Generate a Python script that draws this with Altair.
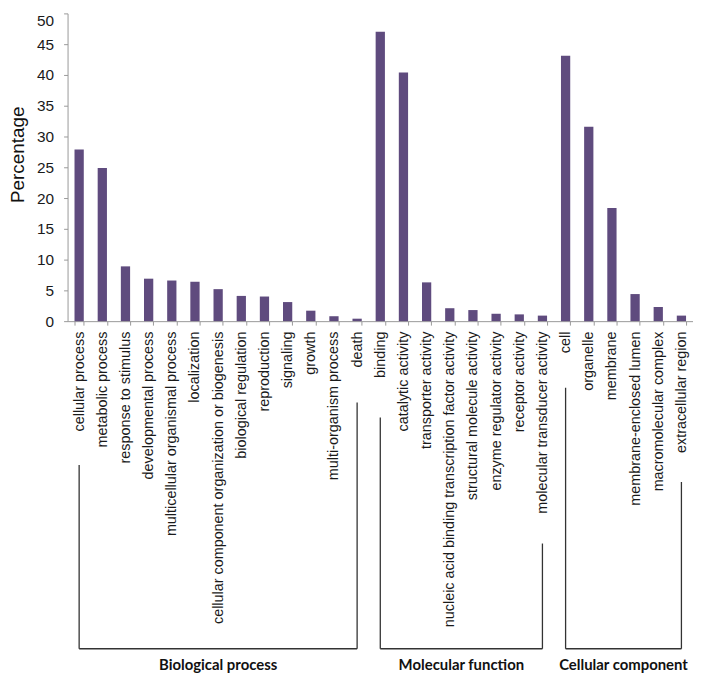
import altair as alt
import pandas as pd

# ---- data ----
categories = [
    "cellular process", "metabolic process", "response to stimulus",
    "developmental process", "multicellular organismal process", "localization",
    "cellular component organization or biogenesis", "biological regulation",
    "reproduction", "signaling", "growth", "multi-organism process", "death",
    "binding", "catalytic activity", "transporter activity",
    "nucleic acid binding transcription factor activity",
    "structural molecule activity", "enzyme regulator activity",
    "receptor activity", "molecular transducer activity",
    "cell", "organelle", "membrane", "membrane-enclosed lumen",
    "macromolecular complex", "extracellular region",
]
percentages = [
    27.9, 24.9, 8.9, 6.9, 6.6, 6.4, 5.2, 4.1, 4.0, 3.1, 1.7, 0.8, 0.4,
    47.0, 40.4, 6.3, 2.1, 1.8, 1.2, 1.1, 0.9,
    43.1, 31.6, 18.4, 4.4, 2.3, 0.9,
]
groups = ["Biological process", "Molecular function", "Cellular component"]
group_sizes = [13, 8, 6]

# ---- style / layout ----
BAR_COLOR = "#5F4B7E"
AXIS_GRAY = "#999999"
W, H = 630, 310
FONT = "Liberation Sans"
# bracket geometry in pixels below the plot top
BRACKET_BASE = 640
LEFT_TOPS = [455, 407, 377]
RIGHT_TOPS = [392, 534, 472]
GROUP_TEXT_Y = 656

df = pd.DataFrame({"category": categories, "percentage": percentages})

N = len(categories)
vert_rows, horiz_rows, text_rows = [], [], []
start = 0
for g, size, lt, rt in zip(groups, group_sizes, LEFT_TOPS, RIGHT_TOPS):
    first = start + 0.5
    last = start + size - 0.5
    vert_rows.append({"pos": first, "top": lt, "bottom": BRACKET_BASE})
    vert_rows.append({"pos": last, "top": rt, "bottom": BRACKET_BASE})
    horiz_rows.append({"pos": first, "pos2": last, "y": BRACKET_BASE})
    text_rows.append({"pos": (first + last) / 2, "y": GROUP_TEXT_Y, "group": g})
    start += size
vdf = pd.DataFrame(vert_rows)
hdf = pd.DataFrame(horiz_rows)
tdf = pd.DataFrame(text_rows)

bars = alt.Chart(df).mark_bar(color=BAR_COLOR).encode(
    x=alt.X(
        "category:N",
        sort=categories,
        scale=alt.Scale(paddingInner=0.6, paddingOuter=0.3),
        axis=alt.Axis(title=None),
    ),
    y=alt.Y(
        "percentage:Q",
        scale=alt.Scale(domain=[0, 50], nice=False, zero=True),
        axis=alt.Axis(
            values=list(range(0, 51, 5)), title="Percentage", titleY=142,
            labelBaseline={"condition": {"test": "datum.value >= 50", "value": "top"},
                           "value": "middle"},
        ),
    ),
)

xq = alt.X("pos:Q", scale=alt.Scale(domain=[0, N], nice=False, zero=False), axis=None)

verts = alt.Chart(vdf).mark_rule(color="#333333", strokeWidth=1.3).encode(
    x=xq,
    y=alt.Y("top:Q", scale=None, axis=None),
    y2="bottom:Q",
)
horiz = alt.Chart(hdf).mark_rule(color="#333333", strokeWidth=1.3).encode(
    x=xq,
    x2="pos2:Q",
    y=alt.Y("y:Q", scale=None, axis=None),
)
texts = alt.Chart(tdf).mark_text(
    font="Lato", fontWeight="bold", fontSize=15, color="#111111",
    align="center", baseline="middle",
).encode(
    x=xq,
    y=alt.Y("y:Q", scale=None, axis=None),
    text="group:N",
)

chart = (
    alt.layer(bars, verts, horiz, texts)
    .resolve_scale(x="independent")
    .properties(width=W, height=H, padding={"left": 0, "right": 0, "top": 2, "bottom": 0})
    .configure_view(stroke=None)
    .configure_axis(
        domainColor=AXIS_GRAY, tickColor=AXIS_GRAY, grid=False,
        labelFont=FONT, titleFont=FONT, labelColor="#1a1a1a", titleColor="#111111",
        titleFontWeight="normal",
    )
    .configure_axisX(
        labelAngle=-90, labelAlign="right", labelBaseline="middle",
        labelPadding=6, labelLimit=600, tickBand="extent", tickSize=4,
        labelFontSize=14.5,
    )
    .configure_axisY(
        tickSize=4, labelPadding=10, labelFontSize=15.5,
        titleFontSize=19, titlePadding=9,
    )
)

chart.save("out.html", embed_options={"renderer": "svg", "actions": False})
